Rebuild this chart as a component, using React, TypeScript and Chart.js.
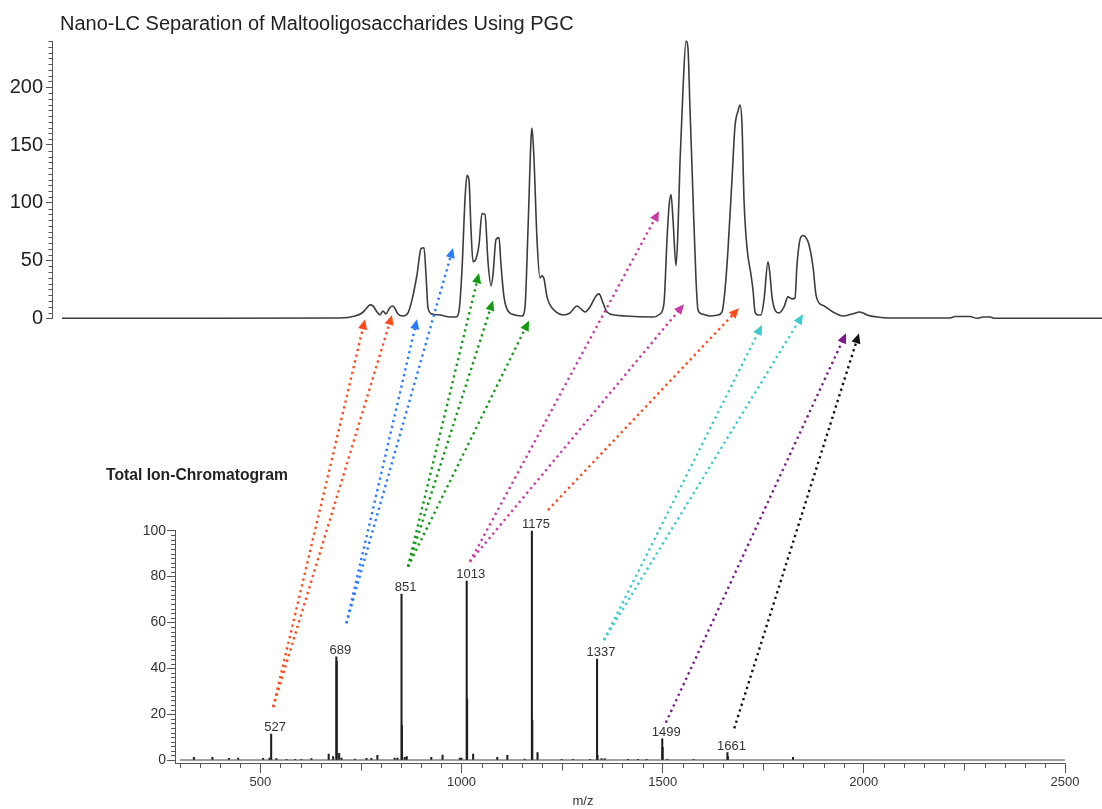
import React, { useEffect, useRef } from "react";
import { Chart, registerables } from "chart.js";

Chart.register(...registerables);

const FONT = "'Liberation Sans', Arial, Helvetica, sans-serif";

// ---------- Top: nano-LC chromatogram (retention time in arbitrary units, signal) ----------
const rtTime = [
  0, 13.8, 27.8, 29.3, 30.0, 30.4, 30.8, 31.1, 31.5, 31.8, 32.1, 32.4, 32.7, 33.0, 33.2, 33.6,
  34.1, 34.6, 35.0, 35.5, 35.9, 36.2, 36.4, 36.6, 37.0, 37.8, 38.8, 39.4, 39.7, 40.0, 40.3,
  40.5, 40.7, 40.9, 41.1, 41.4, 41.7, 42.0, 42.3, 42.6, 42.9, 43.1, 43.4, 43.7, 43.9, 44.2,
  44.6, 45.3, 46.0, 46.3, 46.6, 46.9, 47.0, 47.2, 47.5, 47.8, 48.0, 48.2, 48.5, 48.8, 49.4,
  50.1, 50.8, 51.5, 51.9, 52.3, 52.8, 53.4, 53.7, 54.1, 54.5, 55.3, 56.3, 59.1, 59.8, 60.2,
  60.5, 60.7, 60.9, 61.1, 61.4, 61.6, 61.8, 62.1, 62.4, 62.6, 62.8, 63.1, 63.4, 63.6, 64.0,
  64.8, 65.6, 66.0, 66.3, 66.6, 67.0, 67.3, 67.6, 67.8, 68.0, 68.2, 68.5, 68.9, 69.1, 69.3,
  69.6, 69.9, 70.2, 70.6, 70.8, 71.0, 71.3, 71.7, 72.2, 72.6, 73.0, 73.3, 73.5, 73.8, 74.1,
  74.4, 74.7, 75.1, 75.4, 75.7, 76.2, 77.1, 78.1, 79.0, 79.8, 80.5, 81.5, 82.8, 88.8, 89.3,
  90.8, 91.5, 92.1, 92.8, 93.3, 104,
];
const ticSignal = [
  0, 0, 0.3, 2, 4.6, 8.1, 11.6, 10.7, 5.5, 2.9, 6.3, 3.7, 8.1, 10.7, 9.8, 3.7,
  2, 4.6, 15.9, 37.7, 60.3, 61.1, 37.7, 9, 3.7, 2.9, 1.1, 1.1, 6.3, 42, 102.9,
  123.7, 119.4, 76.8, 49, 51.6, 63.7, 90.7, 89.8, 49, 28.1, 37.7, 68.1, 69.8, 46.3, 18.5,
  6.3, 2.9, 2, 9.8, 76.8, 155, 164.6, 137.7, 68.1, 35.0, 36.8, 34.2, 18.5, 11.6, 5.5,
  2.9, 4.6, 10.7, 8.1, 5.5, 9.8, 19.4, 21.1, 13.3, 5.5, 2.9, 2, 1.1, 3.7, 13.3,
  68.1, 96.8, 107.2, 85.5, 45.5, 76.8, 135, 198.5, 240, 233.3, 181, 105.5, 33.3, 7.2, 3.7,
  2, 2.9, 5.5, 24.6, 59.4, 120.3, 166.3, 179.4, 184.6, 168, 102.9, 61.1, 37.7, 24.6, 5.5,
  2.9, 2.9, 15.9, 49, 37.7, 18.5, 7.2, 4.6, 9.8, 18.5, 16.8, 17.7, 46.3, 68.1, 71.6,
  69.8, 63.7, 44.6, 20.2, 13.3, 10.7, 5.5, 2, 3.7, 5.5, 2.9, 1.1, 0.3, 0.3, 1.6,
  1.6, 0, 1.1, 1.1, 0, 0,
];
const topYMax = 240;
const topYStep = 50;
const topYMinorStep = 5;

// ---------- Bottom: mass spectrum (m/z, relative intensity %) ----------
const mzValues = [
  335, 381, 422, 445, 507, 523, 527, 540, 565, 586, 602, 627, 670, 681, 689, 690, 696, 702,
  735, 764, 776, 791, 834, 841, 851, 852, 859, 864, 925, 953, 996, 1000, 1013, 1014, 1029,
  1089, 1114, 1157, 1175, 1176, 1189, 1249, 1277, 1319, 1337, 1338, 1348, 1356, 1414, 1439,
  1460, 1499, 1500, 1512, 1577, 1661, 1662, 1824,
];
const mzIntensity = [
  1.2, 1.2, 0.7, 0.9, 0.7, 0.9, 11.3, 0.6, 0.3, 0.3, 0.3, 0.6, 2.6, 1.5, 45, 43, 2.9, 0.9,
  0.4, 0.7, 0.7, 2.0, 0.9, 0.9, 72.4, 15, 1.2, 1.5, 1.2, 2.2, 0.9, 0.9, 78, 26.6, 2.6,
  1.2, 2.0, 0.4, 100, 17.4, 3.2, 0.3, 0.3, 0.3, 44, 2, 0.6, 0.6, 0.3, 0.3,
  0.3, 9.2, 5.5, 0.3, 0.3, 3.2, 1.5, 1.2,
];
const baselineMz = [300, 2500];
const labelledMz = [527, 689, 851, 1013, 1175, 1337, 1499, 1661];
const labelledIntensity = [11.3, 45, 72.4, 78, 100, 44, 9.2, 3.2];
const mzTickLabels = [500, 1000, 1500, 2000, 2500];
const mzMin = 288;
const mzMax = 2500;
const mzMediumStep = 250;
const mzMinorStep = 50;
const intensityMin = -1.3;
const intensityMax = 100;
const intensityStep = 20;
const intensityMinorStep = 2;

// ---------- Arrows: from spectrum (m/z, %) to chromatogram (time, signal) ----------
const arrowTailMz = [532, 532, 714, 714, 867, 867, 867, 1021, 1021, 1215, 1354, 1354, 1508, 1678];
const arrowTailIntensity = [23.1, 23.1, 59.6, 59.6, 84.3, 84.3, 84.3, 86.5, 86.5, 109, 52.3, 52.3, 16.3, 13.8];
const arrowHeadTime = [30.3, 33.0, 35.5, 39.1, 41.7, 43.1, 46.7, 59.7, 62.2, 67.7, 70.0, 74.1, 78.4, 79.7];
const arrowHeadSignal = [-0.9, 2.9, -0.9, 60.9, 39.1, 15.3, -2.1, 92.7, 12.2, 8.7, -5.8, 3.5, -13, -13];
const arrowColors = [
  "#ff4a1a", "#ff4a1a", "#2a7cff", "#2a7cff", "#129a12", "#129a12", "#129a12",
  "#c83aa6", "#c83aa6", "#ff4a1a", "#3ccacc", "#3ccacc", "#7d1a8c", "#111111",
];

const TITLE = "Nano-LC Separation of Maltooligosaccharides Using PGC";
const SUBTITLE = "Total Ion-Chromatogram";
const XTITLE = "m/z";

function isMultiple(v: number, step: number) {
  return Math.abs(v / step - Math.round(v / step)) < 1e-6;
}

function drawExtraTicks(
  ctx: CanvasRenderingContext2D,
  scale: any,
  from: number,
  to: number,
  step: number,
  len: number,
  skip: number[],
  color: string
) {
  ctx.save();
  ctx.strokeStyle = color;
  ctx.lineWidth = 1;
  ctx.beginPath();
  const n = Math.round((to - from) / step);
  for (let i = 0; i <= n; i++) {
    const v = from + i * step;
    if (v < scale.min || v > scale.max) continue;
    if (skip.some((s) => isMultiple(v, s))) continue;
    const p = scale.getPixelForValue(v);
    if (scale.isHorizontal()) {
      const x = Math.round(p) + 0.5;
      ctx.moveTo(x, scale.top);
      ctx.lineTo(x, scale.top + len);
    } else {
      const y = Math.round(p) + 0.5;
      ctx.moveTo(scale.right - len, y);
      ctx.lineTo(scale.right, y);
    }
  }
  ctx.stroke();
  ctx.restore();
}

export default function App() {
  const topRef = useRef<HTMLCanvasElement | null>(null);
  const bottomRef = useRef<HTMLCanvasElement | null>(null);

  useEffect(() => {
    if (!topRef.current || !bottomRef.current) return;
    Chart.defaults.font.family = FONT;

    const topPlugin = {
      id: "topDecor",
      afterDraw(chart: any) {
        const ctx = chart.ctx as CanvasRenderingContext2D;
        drawExtraTicks(ctx, chart.scales.y, 0, topYMax, topYMinorStep, 3.5, [topYStep], "#555");
        ctx.save();
        ctx.fillStyle = "#222";
        ctx.font = `20px ${FONT}`;
        ctx.textAlign = "left";
        ctx.textBaseline = "alphabetic";
        ctx.fillText(TITLE, 60, 30);
        ctx.restore();
      },
    };

    const topChart = new Chart(topRef.current, {
      type: "line",
      data: {
        datasets: [
          {
            data: rtTime.map((t, i) => ({ x: t, y: ticSignal[i] })),
            borderColor: "#3c3c3c",
            borderWidth: 1.6,
            pointRadius: 0,
            cubicInterpolationMode: "monotone",
            clip: false as any,
          },
        ],
      },
      options: {
        responsive: false,
        animation: false,
        events: [],
        layout: { padding: { left: 0, top: 41, right: 0, bottom: 490.7 } },
        plugins: { legend: { display: false }, tooltip: { enabled: false }, title: { display: false } },
        scales: {
          x: { type: "linear", min: -1, max: 104, display: false },
          y: {
            type: "linear",
            min: 0,
            max: topYMax,
            afterFit: (s: any) => {
              s.width = 52;
            },
            ticks: {
              stepSize: topYStep,
              includeBounds: false,
              font: { size: 20, family: FONT },
              color: "#222",
              padding: 3,
              callback: (v: any) => String(v),
            },
            grid: { drawOnChartArea: false, drawTicks: true, tickLength: 6, tickColor: "#555", tickWidth: 1 },
            border: { display: true, color: "#555", width: 1 },
          },
        },
      },
      plugins: [topPlugin],
    } as any);

    const bottomPlugin = {
      id: "bottomDecor",
      afterDraw(chart: any) {
        const ctx = chart.ctx as CanvasRenderingContext2D;
        const xs = chart.scales.x;
        const ys = chart.scales.y;
        drawExtraTicks(ctx, xs, 300, mzMax, mzMinorStep, 5, [mzMediumStep], "#555");
        drawExtraTicks(ctx, xs, 250, mzMax, mzMediumStep, 7.5, [mzTickLabels[0]], "#555");
        drawExtraTicks(ctx, ys, 0, intensityMax, intensityMinorStep, 4, [intensityStep], "#555");

        ctx.save();
        // peak labels
        ctx.fillStyle = "#333";
        ctx.font = `13px ${FONT}`;
        ctx.textAlign = "center";
        ctx.textBaseline = "alphabetic";
        labelledMz.forEach((m, i) => {
          const x = xs.getPixelForValue(m) + 4;
          const y = ys.getPixelForValue(labelledIntensity[i]) - 3;
          ctx.fillText(String(m), x, y);
        });
        // axis title
        ctx.textBaseline = "middle";
        ctx.fillText(XTITLE, 583, 801.5);
        // subtitle
        ctx.fillStyle = "#222";
        ctx.font = `bold 15.7px ${FONT}`;
        ctx.textAlign = "left";
        ctx.textBaseline = "alphabetic";
        ctx.fillText(SUBTITLE, 106, 480);

        // arrows
        const tx = topChart.scales.x;
        const ty = topChart.scales.y;
        arrowTailMz.forEach((m, i) => {
          const x0 = xs.getPixelForValue(m);
          const y0 = ys.getPixelForValue(arrowTailIntensity[i]);
          const x1 = tx.getPixelForValue(arrowHeadTime[i]);
          const y1 = ty.getPixelForValue(arrowHeadSignal[i]);
          const dx = x1 - x0;
          const dy = y1 - y0;
          const L = Math.hypot(dx, dy);
          const ux = dx / L;
          const uy = dy / L;
          const headLen = 10;
          const headHalf = 4.6;
          const bx = x1 - ux * headLen;
          const by = y1 - uy * headLen;
          ctx.strokeStyle = arrowColors[i];
          ctx.fillStyle = arrowColors[i];
          ctx.lineWidth = 2.4;
          ctx.lineCap = "butt";
          ctx.setLineDash([2.3, 3.6]);
          ctx.beginPath();
          ctx.moveTo(x0, y0);
          ctx.lineTo(bx + ux * 1, by + uy * 1);
          ctx.stroke();
          ctx.setLineDash([]);
          ctx.beginPath();
          ctx.moveTo(x1, y1);
          ctx.lineTo(bx - uy * headHalf, by + ux * headHalf);
          ctx.lineTo(bx + uy * headHalf, by - ux * headHalf);
          ctx.closePath();
          ctx.fill();
        });
        ctx.restore();
      },
    };

    const bottomChart = new Chart(bottomRef.current, {
      type: "bar",
      data: {
        datasets: [
          {
            type: "line",
            data: baselineMz.map((m) => ({ x: m, y: 0 })),
            borderColor: "#444",
            borderWidth: 1,
            pointRadius: 0,
            order: 2,
          },
          {
            type: "bar",
            data: mzValues.map((m, i) => ({ x: m, y: mzIntensity[i] })),
            backgroundColor: "#1e1e1e",
            borderWidth: 0,
            barThickness: 1.4,
            order: 1,
          },
        ],
      },
      options: {
        responsive: false,
        animation: false,
        events: [],
        layout: { padding: { left: 135, top: 530.7, right: 37, bottom: 16 } },
        plugins: { legend: { display: false }, tooltip: { enabled: false } },
        scales: {
          x: {
            type: "linear",
            min: mzMin,
            max: mzMax,
            offset: false,
            afterFit: (s: any) => {
              s.height = 30;
            },
            afterBuildTicks: (s: any) => {
              s.ticks = mzTickLabels.map((v) => ({ value: v }));
            },
            ticks: {
              font: { size: 13, family: FONT },
              color: "#333",
              padding: 2,
              maxRotation: 0,
              autoSkip: false,
              callback: (v: any) => String(v),
            },
            grid: { offset: false, drawOnChartArea: false, tickLength: 10, tickColor: "#555" },
            border: { color: "#555" },
          },
          y: {
            type: "linear",
            min: intensityMin,
            max: intensityMax,
            afterFit: (s: any) => {
              s.width = 40;
            },
            ticks: {
              stepSize: intensityStep,
              includeBounds: false,
              font: { size: 14, family: FONT },
              color: "#333",
              padding: 1,
              callback: (v: any) => String(v),
            },
            grid: { drawOnChartArea: false, tickLength: 8, tickColor: "#555" },
            border: { color: "#555" },
          },
        },
      },
      plugins: [bottomPlugin],
    } as any);

    return () => {
      bottomChart.destroy();
      topChart.destroy();
    };
  }, []);

  const canvasStyle: React.CSSProperties = {
    position: "absolute",
    left: 0,
    top: 0,
    width: 1102,
    height: 809,
  };

  return (
    <div
      style={{
        position: "fixed",
        left: 0,
        top: 0,
        width: 1102,
        height: 809,
        background: "#ffffff",
        overflow: "hidden",
      }}
    >
      <canvas ref={topRef} width={1102} height={809} style={canvasStyle} />
      <canvas ref={bottomRef} width={1102} height={809} style={canvasStyle} />
    </div>
  );
}
